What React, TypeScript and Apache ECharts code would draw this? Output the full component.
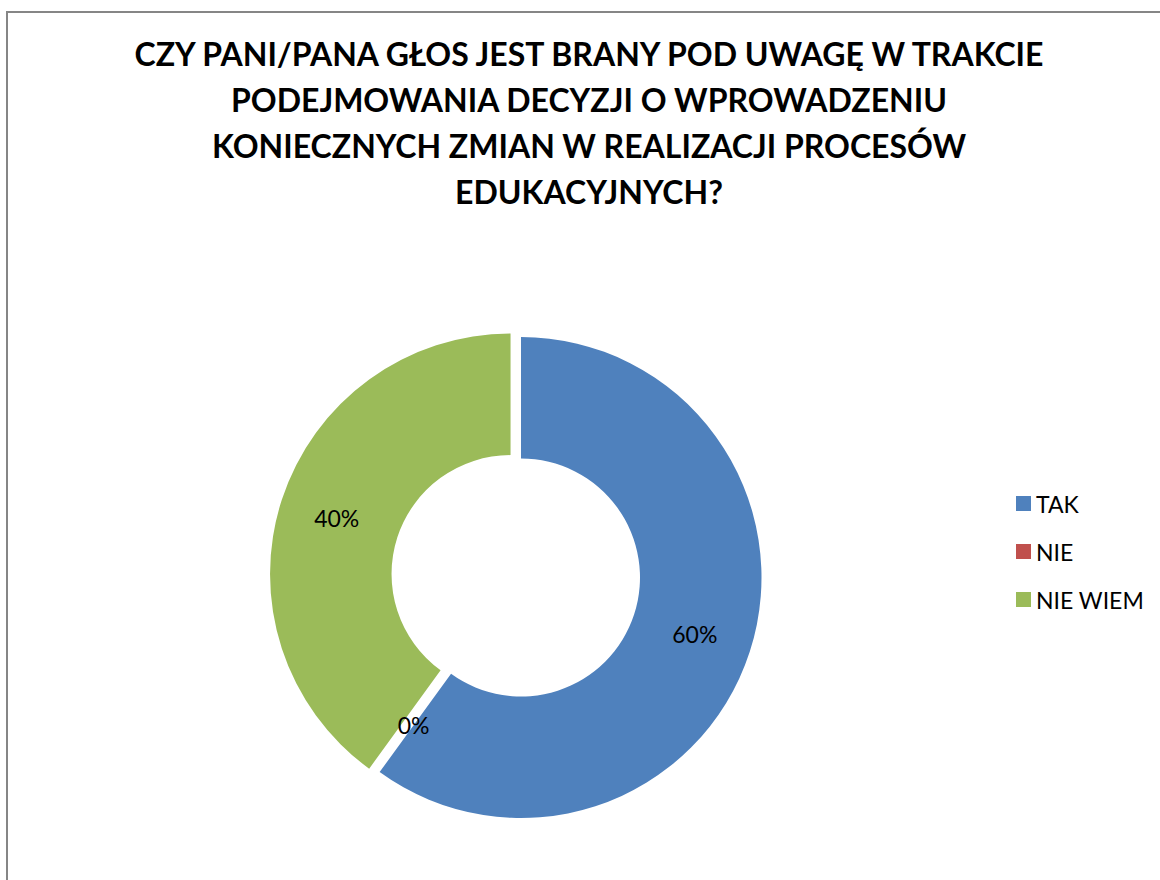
import React, { useEffect, useRef } from "react";
import * as echarts from "echarts";

const titleLines = [
  "CZY PANI/PANA GŁOS JEST BRANY POD UWAGĘ W TRAKCIE",
  "PODEJMOWANIA DECYZJI O WPROWADZENIU",
  "KONIECZNYCH ZMIAN W REALIZACJI PROCESÓW",
  "EDUKACYJNYCH?",
];
const categories = ["TAK", "NIE", "NIE WIEM"];
const values = [60, 0, 40];
const colors = ["#4F81BD", "#C0504D", "#9BBB59"];
const exploded = [false, false, true];

export default function App() {
  const ref = useRef<HTMLDivElement>(null);
  useEffect(() => {
    if (!ref.current) return;
    const chart = echarts.init(ref.current, null, { renderer: "svg" });
    const font = "Lato, 'Noto Sans', sans-serif";
    chart.setOption({
      animation: false,
      backgroundColor: "#ffffff",
      title: {
        text: titleLines.join("\n"),
        left: 589,
        top: 30,
        textAlign: "center",
        padding: 0,
        textStyle: {
          fontFamily: font,
          fontWeight: "bold",
          fontSize: 32,
          lineHeight: 46,
          color: "#000000",
        },
      },
      legend: {
        orient: "vertical",
        left: 1011,
        top: 487,
        itemWidth: 15,
        itemHeight: 15,
        itemGap: 25,
        icon: "rect",
        selectedMode: false,
        data: categories,
        textStyle: { fontFamily: font, fontSize: 23, color: "#000000" },
      },
      graphic: [
        {
          type: "rect",
          shape: { x: 7, y: 12, width: 1300, height: 1000 },
          style: { fill: "none", stroke: "#868686", lineWidth: 2 },
          silent: true,
        },
      ],
      series: [
        {
          type: "pie",
          center: [521, 577.5],
          radius: [119, 240.5],
          startAngle: 90,
          clockwise: true,
          selectedMode: "multiple",
          selectedOffset: 11,
          avoidLabelOverlap: false,
          minShowLabelAngle: -1,
          label: {
            show: true,
            position: "inside",
            formatter: (p: any) => Math.round(p.percent) + "%",
            fontFamily: font,
            fontSize: 23,
            color: "#000000",
          },
          labelLine: { show: false },
          emphasis: { disabled: true },
          itemStyle: { borderWidth: 0 },
          data: categories.map((c, i) => ({
            name: c,
            value: values[i],
            selected: exploded[i],
            itemStyle: { color: colors[i] },
          })),
        },
      ],
    });
    return () => chart.dispose();
  }, []);
  return (
    <div
      ref={ref}
      style={{ position: "fixed", left: 0, top: 0, width: 1160, height: 880 }}
    />
  );
}
